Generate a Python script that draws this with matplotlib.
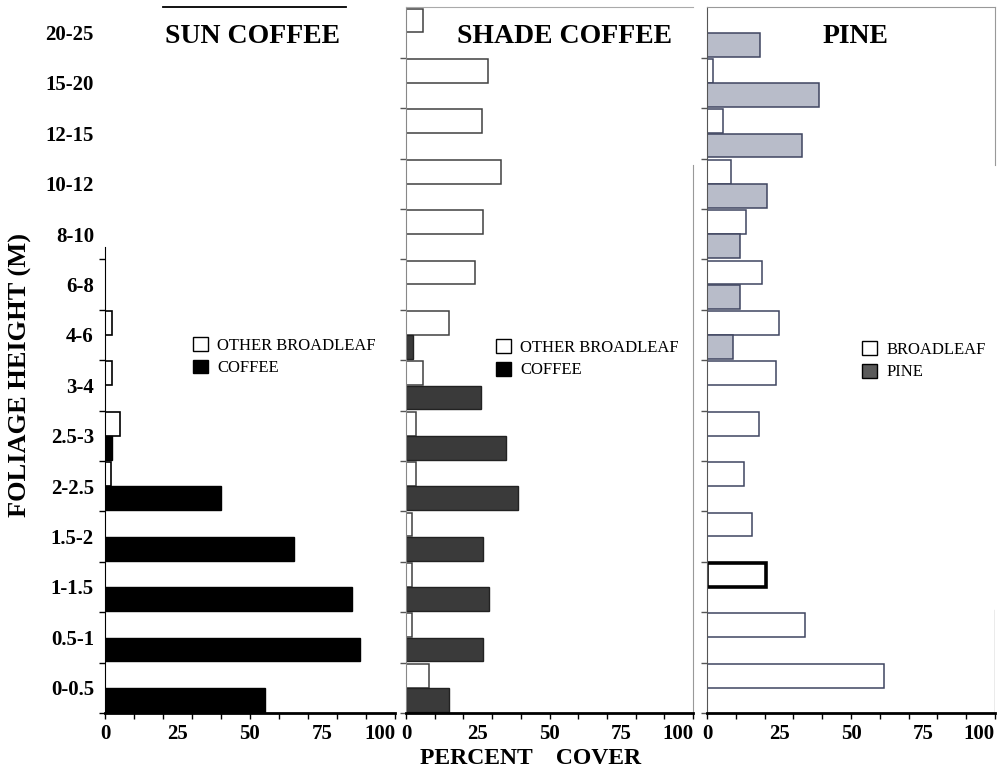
import numpy as np
import matplotlib
matplotlib.use('Agg')
import matplotlib.pyplot as plt
from matplotlib.patches import Patch

plt.rcParams['font.family'] = ['Liberation Serif', 'DejaVu Serif']
plt.rcParams['font.weight'] = 'bold'

# height classes, listed from the ground up
heights = ['0-0.5', '0.5-1', '1-1.5', '1.5-2', '2-2.5', '2.5-3', '3-4', '4-6',
           '6-8', '8-10', '10-12', '12-15', '15-20', '20-25']

sun_broadleaf = [0, 0, 0, 0, 2, 5, 2.5, 2.5, 0, 0, 0, 0, 0, 0]
sun_coffee = [55, 88, 85, 65, 40, 2.5, 0, 0, 0, 0, 0, 0, 0, 0]
shade_broadleaf = [8, 2, 2, 2, 3.5, 3.5, 6, 15, 24, 27, 33, 26.5, 28.5, 6]
shade_coffee = [15, 27, 29, 27, 39, 35, 26, 2.5, 0, 0, 0, 0, 0, 0]
pine_broadleaf = [61.5, 34, 20.5, 15.5, 13, 18, 24, 25, 19, 13.5, 8.5, 5.5, 2, 0]
pine_pine = [0, 0, 0, 0, 0, 0, 0, 9, 11.5, 11.5, 21, 33, 39, 18.5]

titles = ['SUN COFFEE', 'SHADE COFFEE', 'PINE']
x_labels = [0, 25, 50, 75, 100]

W, H = 1008., 771.
fig = plt.figure(figsize=(W / 100, H / 100), dpi=100)


def box(x0, x1):
    return [x0 / W, (H - 713) / H, (x1 - x0) / W, (713 - 7.4) / H]


ax1 = fig.add_axes(box(105, 395))
ax2 = fig.add_axes(box(406, 693))
ax3 = fig.add_axes(box(707, 995))

y = np.arange(len(heights))


def draw(ax, top, low, top_style, low_style):
    top = np.array(top, float)
    low = np.array(low, float)
    m = top > 0
    b1 = ax.barh(y[m] + 0.74, top[m], height=0.47, **top_style)
    m2 = low > 0
    ax.barh(y[m2] + 0.26, low[m2], height=0.47, **low_style)
    return b1, y[m]


draw(ax1, sun_broadleaf, sun_coffee,
     dict(color='white', edgecolor='black', linewidth=1.2),
     dict(color='black', edgecolor='black', linewidth=1))
draw(ax2, shade_broadleaf, shade_coffee,
     dict(color='white', edgecolor='#404040', linewidth=1.1),
     dict(color='#3a3a3a', edgecolor='#222222', linewidth=1))
bars, idx = draw(ax3, pine_broadleaf, pine_pine,
                 dict(color='white', edgecolor='#3f4560', linewidth=1.1),
                 dict(color='#b8bcc9', edgecolor='#3f4560', linewidth=1.1))
for rect, i in zip(bars, idx):
    if heights[i] == '1-1.5':
        rect.set_linewidth(2.6)
        rect.set_edgecolor('black')

for ax, t, tx in zip([ax1, ax2, ax3], titles, [0.51, 0.554, 0.514]):
    ax.xaxis.remove_overlapping_locs = False
    ax.set_xlim(0, 100)
    ax.set_ylim(0, len(heights))
    ax.set_xticks(range(0, 101, 10))
    ax.set_xticklabels([])
    ax.set_xticks(x_labels, minor=True)
    ax.set_xticklabels([str(v) for v in x_labels], minor=True)
    ax.tick_params(axis='x', which='major', direction='out', length=4, width=1)
    ax.tick_params(axis='x', which='minor', length=0, pad=8, labelsize=15)
    # last label sits flush with the end of the axis
    ax.get_xticklabels(minor=True)[-1].set_horizontalalignment('right')
    ax.set_yticks(range(0, len(heights)))
    ax.set_yticklabels([])
    ax.tick_params(axis='y', which='major', direction='out', length=4, width=1,
                   color='#555555')
    ax.spines['bottom'].set_linewidth(2)
    ax.text(tx, 0.959, t, transform=ax.transAxes, ha='center', va='center',
            fontsize=20, fontweight='bold')

# sun coffee panel: labels for the height classes
ax1.set_yticks(range(0, 10))
ax1.set_yticklabels([])
ax1.set_yticks(y + 0.5, minor=True)
ax1.set_yticklabels(heights, minor=True)
ax1.tick_params(axis='y', which='major', color='black')
ax1.tick_params(axis='y', which='minor', length=0, pad=8, labelsize=15)
ax1.spines['top'].set_visible(False)
ax1.spines['right'].set_visible(False)
ax1.spines['left'].set_bounds(0, 9.25)
ax1.plot([20, 83], [14, 14], color='black', lw=1.3, clip_on=False)

ax2.spines['left'].set_color('#888888')
ax2.spines['top'].set_color('#aaaaaa')
ax2.spines['right'].set_color('#999999')
ax2.spines['right'].set_bounds(0, 10.87)

ax3.spines['left'].set_color('#555555')
ax3.spines['top'].set_color('#999999')
ax3.spines['right'].set_color('#999999')
ax3.spines['right'].set_bounds(10.87, 14)
ax3.axvline(100, ymin=0, ymax=2.04 / 14, color='#999999', lw=1)

leg_kw = dict(loc='center left', frameon=False, handlelength=0.9,
              prop={'size': 12, 'weight': 'normal'},
              handleheight=0.9, handletextpad=0.55, labelspacing=0.35,
              borderpad=0, borderaxespad=0)
ax1.legend([Patch(facecolor='white', edgecolor='black'),
            Patch(facecolor='black', edgecolor='black')],
           ['OTHER BROADLEAF', 'COFFEE'], bbox_to_anchor=(0.303, 0.505), **leg_kw)
ax2.legend([Patch(facecolor='white', edgecolor='black'),
            Patch(facecolor='black', edgecolor='black')],
           ['OTHER BROADLEAF', 'COFFEE'], bbox_to_anchor=(0.314, 0.502), **leg_kw)
ax3.legend([Patch(facecolor='white', edgecolor='black'),
            Patch(facecolor='#5a5a5a', edgecolor='black')],
           ['BROADLEAF', 'PINE'], bbox_to_anchor=(0.538, 0.499), **leg_kw)

fig.text(20 / W, 1 - 375 / H, 'FOLIAGE HEIGHT (M)', rotation=90, ha='center',
         va='center', fontsize=19, fontweight='bold')
fig.text(531 / W, 1 - 758 / H, 'PERCENT    COVER', ha='center', va='center',
         fontsize=17, fontweight='bold')

fig.savefig('out.png', dpi=100)
